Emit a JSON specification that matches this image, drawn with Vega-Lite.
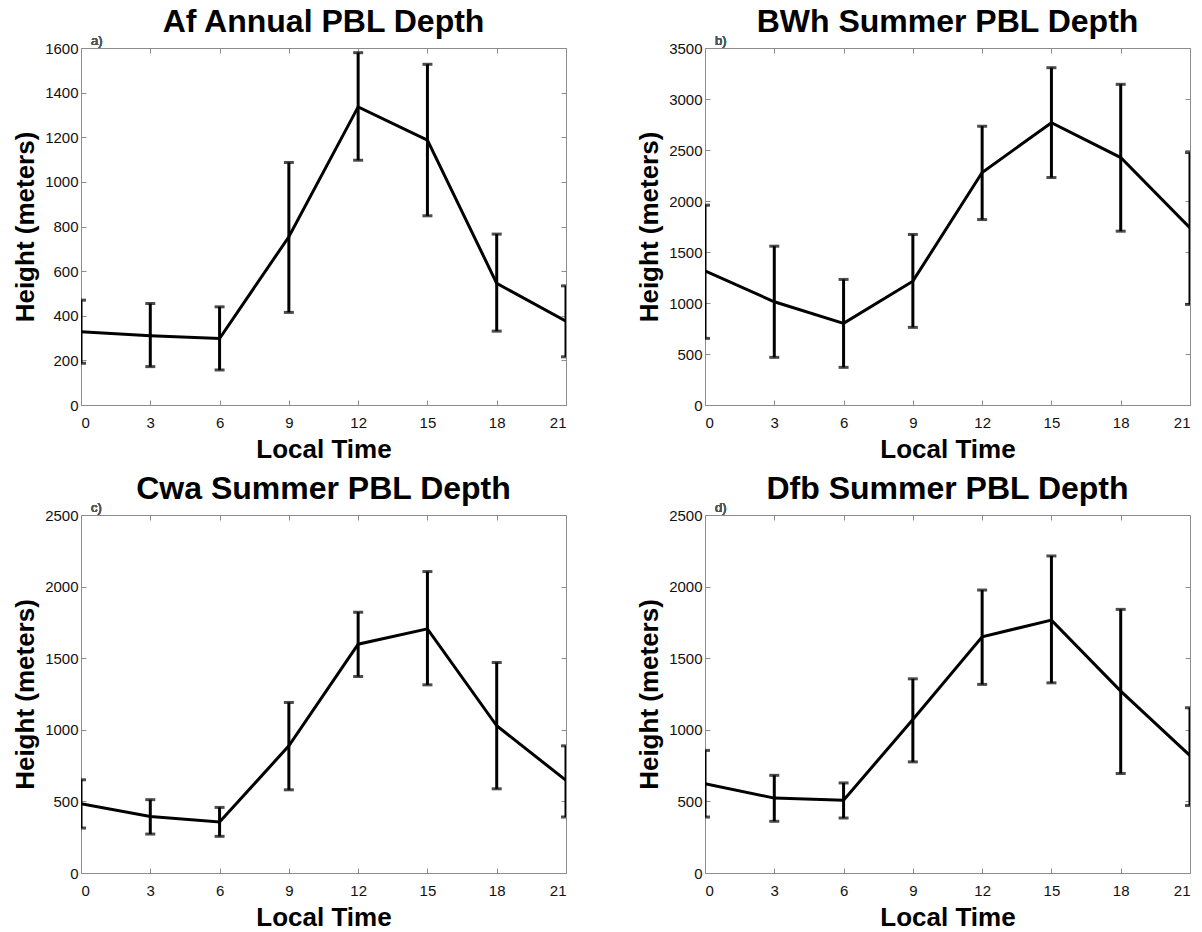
{
  "$schema": "https://vega.github.io/schema/vega-lite/v6.json",
  "background": "white",
  "padding": {"left": 12, "top": 6, "right": 4, "bottom": 2},
  "config": {
    "font": "Liberation Sans",
    "view": {"stroke": null},
    "axis": {
      "grid": false,
      "domainColor": "#8c8c8c",
      "domainWidth": 1,
      "tickColor": "#8c8c8c",
      "tickSize": -5,
      "tickWidth": 1,
      "labelFont": "Liberation Sans",
      "labelFontSize": 15,
      "labelColor": "#111111",
      "titleFont": "Liberation Sans",
      "titleFontSize": 26,
      "titleFontWeight": "bold",
      "titleColor": "#000000"
    },
    "title": {"font": "Liberation Sans", "fontSize": 32, "fontWeight": "bold", "color": "#000000", "anchor": "middle", "offset": -4}
  },
  "columns": 2,
  "spacing": {"row": 11, "column": 69},
  "concat": [
    {
      "width": 485, "height": 357,
      "title": "Af Annual PBL Depth",
      "data": {"values": [
        {"t": 0, "lo": 187, "mean": 328, "hi": 470},
        {"t": 3, "lo": 172, "mean": 310, "hi": 455},
        {"t": 6, "lo": 157, "mean": 298, "hi": 440},
        {"t": 9, "lo": 415, "mean": 754, "hi": 1087},
        {"t": 12, "lo": 1097, "mean": 1336, "hi": 1579},
        {"t": 15, "lo": 848, "mean": 1187, "hi": 1527},
        {"t": 18, "lo": 331, "mean": 545, "hi": 766},
        {"t": 21, "lo": 216, "mean": 376, "hi": 534}
      ]},
      "layer": [
        {"mark": {"type": "rule", "color": "black", "strokeWidth": 3, "clip": true},
         "encoding": {
           "x": {"field": "t", "type": "quantitative", "scale": {"domain": [0, 21], "nice": false, "zero": false},
                 "axis": {"orient": "bottom", "values": [0, 3, 6, 9, 12, 15, 18, 21], "title": "Local Time", "labelPadding": 15, "titlePadding": 6}},
           "y": {"field": "lo", "type": "quantitative", "scale": {"domain": [0, 1600], "nice": false},
                 "axis": {"orient": "left", "values": [0, 200, 400, 600, 800, 1000, 1200, 1400, 1600], "format": "d", "title": "Height (meters)", "labelPadding": 8, "titlePadding": 6}},
           "y2": {"field": "hi"}}},
        {"mark": {"type": "tick", "orient": "horizontal", "color": "black", "size": 10, "thickness": 3, "clip": true},
         "encoding": {"x": {"field": "t", "type": "quantitative", "axis": null}, "y": {"field": "lo", "type": "quantitative", "axis": null}}},
        {"mark": {"type": "tick", "orient": "horizontal", "color": "black", "size": 10, "thickness": 3, "clip": true},
         "encoding": {"x": {"field": "t", "type": "quantitative", "axis": null}, "y": {"field": "hi", "type": "quantitative", "axis": null}}},
        {"mark": {"type": "line", "color": "black", "strokeWidth": 3, "clip": true},
         "encoding": {
           "x": {"field": "t", "type": "quantitative", "axis": {"orient": "top", "values": [0, 3, 6, 9, 12, 15, 18, 21], "labels": false, "title": null}},
           "y": {"field": "mean", "type": "quantitative", "axis": {"orient": "right", "values": [0, 200, 400, 600, 800, 1000, 1200, 1400, 1600], "labels": false, "title": null}}}},
        {"mark": {"type": "text", "align": "left", "baseline": "bottom", "dx": 10, "dy": 0, "fontSize": 13, "color": "#555555"},
         "encoding": {"x": {"datum": 0, "type": "quantitative", "axis": null}, "y": {"datum": 1600, "type": "quantitative", "axis": null}, "text": {"value": "a)"}}}
      ],
      "resolve": {"axis": {"x": "independent", "y": "independent"}}
    },
    {
      "width": 485, "height": 357,
      "title": "BWh Summer PBL Depth",
      "data": {"values": [
        {"t": 0, "lo": 653, "mean": 1316, "hi": 1959},
        {"t": 3, "lo": 467, "mean": 1012, "hi": 1557},
        {"t": 6, "lo": 369, "mean": 800, "hi": 1231},
        {"t": 9, "lo": 761, "mean": 1214, "hi": 1672},
        {"t": 12, "lo": 1818, "mean": 2279, "hi": 2733},
        {"t": 15, "lo": 2230, "mean": 2768, "hi": 3307},
        {"t": 18, "lo": 1704, "mean": 2426, "hi": 3144},
        {"t": 21, "lo": 986, "mean": 1737, "hi": 2475}
      ]},
      "layer": [
        {"mark": {"type": "rule", "color": "black", "strokeWidth": 3, "clip": true},
         "encoding": {
           "x": {"field": "t", "type": "quantitative", "scale": {"domain": [0, 21], "nice": false, "zero": false},
                 "axis": {"orient": "bottom", "values": [0, 3, 6, 9, 12, 15, 18, 21], "title": "Local Time", "labelPadding": 15, "titlePadding": 6}},
           "y": {"field": "lo", "type": "quantitative", "scale": {"domain": [0, 3500], "nice": false},
                 "axis": {"orient": "left", "values": [0, 500, 1000, 1500, 2000, 2500, 3000, 3500], "format": "d", "title": "Height (meters)", "labelPadding": 8, "titlePadding": 6}},
           "y2": {"field": "hi"}}},
        {"mark": {"type": "tick", "orient": "horizontal", "color": "black", "size": 10, "thickness": 3, "clip": true},
         "encoding": {"x": {"field": "t", "type": "quantitative", "axis": null}, "y": {"field": "lo", "type": "quantitative", "axis": null}}},
        {"mark": {"type": "tick", "orient": "horizontal", "color": "black", "size": 10, "thickness": 3, "clip": true},
         "encoding": {"x": {"field": "t", "type": "quantitative", "axis": null}, "y": {"field": "hi", "type": "quantitative", "axis": null}}},
        {"mark": {"type": "line", "color": "black", "strokeWidth": 3, "clip": true},
         "encoding": {
           "x": {"field": "t", "type": "quantitative", "axis": {"orient": "top", "values": [0, 3, 6, 9, 12, 15, 18, 21], "labels": false, "title": null}},
           "y": {"field": "mean", "type": "quantitative", "axis": {"orient": "right", "values": [0, 500, 1000, 1500, 2000, 2500, 3000, 3500], "labels": false, "title": null}}}},
        {"mark": {"type": "text", "align": "left", "baseline": "bottom", "dx": 10, "dy": 0, "fontSize": 13, "color": "#555555"},
         "encoding": {"x": {"datum": 0, "type": "quantitative", "axis": null}, "y": {"datum": 3500, "type": "quantitative", "axis": null}, "text": {"value": "b)"}}}
      ],
      "resolve": {"axis": {"x": "independent", "y": "independent"}}
    },
    {
      "width": 485, "height": 358,
      "title": "Cwa Summer PBL Depth",
      "data": {"values": [
        {"t": 0, "lo": 314, "mean": 484, "hi": 651},
        {"t": 3, "lo": 272, "mean": 395, "hi": 512},
        {"t": 6, "lo": 256, "mean": 356, "hi": 458},
        {"t": 9, "lo": 581, "mean": 888, "hi": 1191},
        {"t": 12, "lo": 1372, "mean": 1598, "hi": 1821},
        {"t": 15, "lo": 1314, "mean": 1705, "hi": 2105},
        {"t": 18, "lo": 588, "mean": 1028, "hi": 1470},
        {"t": 21, "lo": 391, "mean": 647, "hi": 888}
      ]},
      "layer": [
        {"mark": {"type": "rule", "color": "black", "strokeWidth": 3, "clip": true},
         "encoding": {
           "x": {"field": "t", "type": "quantitative", "scale": {"domain": [0, 21], "nice": false, "zero": false},
                 "axis": {"orient": "bottom", "values": [0, 3, 6, 9, 12, 15, 18, 21], "title": "Local Time", "labelPadding": 15, "titlePadding": 6}},
           "y": {"field": "lo", "type": "quantitative", "scale": {"domain": [0, 2500], "nice": false},
                 "axis": {"orient": "left", "values": [0, 500, 1000, 1500, 2000, 2500], "format": "d", "title": "Height (meters)", "labelPadding": 8, "titlePadding": 6}},
           "y2": {"field": "hi"}}},
        {"mark": {"type": "tick", "orient": "horizontal", "color": "black", "size": 10, "thickness": 3, "clip": true},
         "encoding": {"x": {"field": "t", "type": "quantitative", "axis": null}, "y": {"field": "lo", "type": "quantitative", "axis": null}}},
        {"mark": {"type": "tick", "orient": "horizontal", "color": "black", "size": 10, "thickness": 3, "clip": true},
         "encoding": {"x": {"field": "t", "type": "quantitative", "axis": null}, "y": {"field": "hi", "type": "quantitative", "axis": null}}},
        {"mark": {"type": "line", "color": "black", "strokeWidth": 3, "clip": true},
         "encoding": {
           "x": {"field": "t", "type": "quantitative", "axis": {"orient": "top", "values": [0, 3, 6, 9, 12, 15, 18, 21], "labels": false, "title": null}},
           "y": {"field": "mean", "type": "quantitative", "axis": {"orient": "right", "values": [0, 500, 1000, 1500, 2000, 2500], "labels": false, "title": null}}}},
        {"mark": {"type": "text", "align": "left", "baseline": "bottom", "dx": 10, "dy": 0, "fontSize": 13, "color": "#555555"},
         "encoding": {"x": {"datum": 0, "type": "quantitative", "axis": null}, "y": {"datum": 2500, "type": "quantitative", "axis": null}, "text": {"value": "c)"}}}
      ],
      "resolve": {"axis": {"x": "independent", "y": "independent"}}
    },
    {
      "width": 485, "height": 358,
      "title": "Dfb Summer PBL Depth",
      "data": {"values": [
        {"t": 0, "lo": 391, "mean": 623, "hi": 856},
        {"t": 3, "lo": 361, "mean": 523, "hi": 682},
        {"t": 6, "lo": 384, "mean": 508, "hi": 629},
        {"t": 9, "lo": 776, "mean": 1072, "hi": 1356},
        {"t": 12, "lo": 1317, "mean": 1650, "hi": 1976},
        {"t": 15, "lo": 1328, "mean": 1766, "hi": 2214},
        {"t": 18, "lo": 695, "mean": 1270, "hi": 1841},
        {"t": 21, "lo": 471, "mean": 820, "hi": 1154}
      ]},
      "layer": [
        {"mark": {"type": "rule", "color": "black", "strokeWidth": 3, "clip": true},
         "encoding": {
           "x": {"field": "t", "type": "quantitative", "scale": {"domain": [0, 21], "nice": false, "zero": false},
                 "axis": {"orient": "bottom", "values": [0, 3, 6, 9, 12, 15, 18, 21], "title": "Local Time", "labelPadding": 15, "titlePadding": 6}},
           "y": {"field": "lo", "type": "quantitative", "scale": {"domain": [0, 2500], "nice": false},
                 "axis": {"orient": "left", "values": [0, 500, 1000, 1500, 2000, 2500], "format": "d", "title": "Height (meters)", "labelPadding": 8, "titlePadding": 6}},
           "y2": {"field": "hi"}}},
        {"mark": {"type": "tick", "orient": "horizontal", "color": "black", "size": 10, "thickness": 3, "clip": true},
         "encoding": {"x": {"field": "t", "type": "quantitative", "axis": null}, "y": {"field": "lo", "type": "quantitative", "axis": null}}},
        {"mark": {"type": "tick", "orient": "horizontal", "color": "black", "size": 10, "thickness": 3, "clip": true},
         "encoding": {"x": {"field": "t", "type": "quantitative", "axis": null}, "y": {"field": "hi", "type": "quantitative", "axis": null}}},
        {"mark": {"type": "line", "color": "black", "strokeWidth": 3, "clip": true},
         "encoding": {
           "x": {"field": "t", "type": "quantitative", "axis": {"orient": "top", "values": [0, 3, 6, 9, 12, 15, 18, 21], "labels": false, "title": null}},
           "y": {"field": "mean", "type": "quantitative", "axis": {"orient": "right", "values": [0, 500, 1000, 1500, 2000, 2500], "labels": false, "title": null}}}},
        {"mark": {"type": "text", "align": "left", "baseline": "bottom", "dx": 10, "dy": 0, "fontSize": 13, "color": "#555555"},
         "encoding": {"x": {"datum": 0, "type": "quantitative", "axis": null}, "y": {"datum": 2500, "type": "quantitative", "axis": null}, "text": {"value": "d)"}}}
      ],
      "resolve": {"axis": {"x": "independent", "y": "independent"}}
    }
  ]
}
